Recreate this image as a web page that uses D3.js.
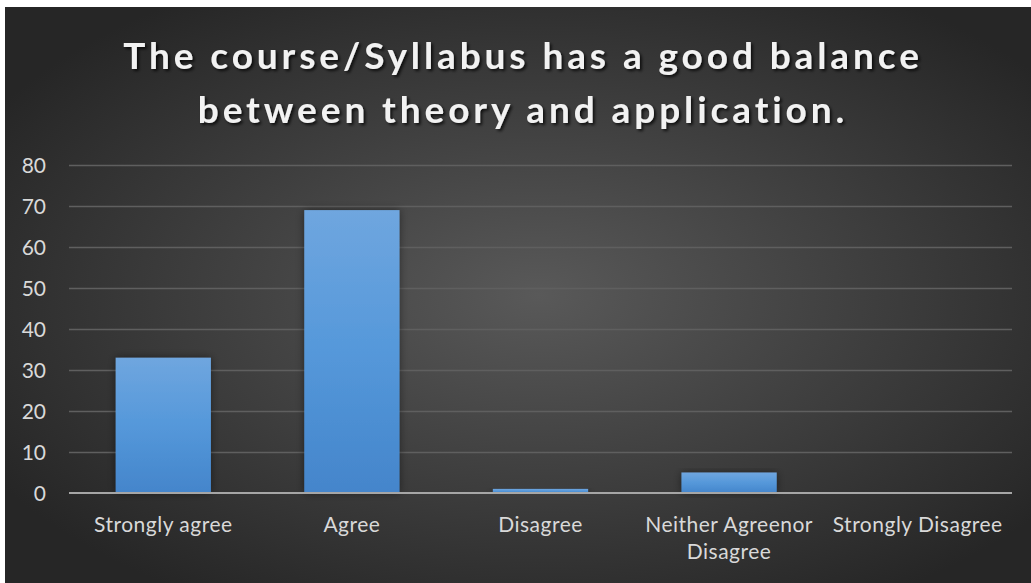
<!DOCTYPE html>
<html>
<head>
<meta charset="utf-8">
<script src="https://cdn.jsdelivr.net/npm/d3@7"></script>
<style>
  html, body { margin: 0; padding: 0; background: #fff; }
  svg { display: block; }
</style>
</head>
<body>
<div id="chart"></div>
<script>
const categories = ['Strongly agree', 'Agree', 'Disagree', 'Neither Agreenor Disagree', 'Strongly Disagree'];
const values = [33, 69, 1, 5, 0];
const yTicks = [0, 10, 20, 30, 40, 50, 60, 70, 80];
const titleLines = ['The course/Syllabus has a good balance', 'between theory and application.'];

const W = 1031, H = 583;
const margin = { top: 165, right: 19, bottom: 90, left: 69 };
const labelFont = 'Lato, "Open Sans", sans-serif';

const svg = d3.select('#chart').append('svg')
  .attr('width', W)
  .attr('height', H);

const defs = svg.append('defs');
const bg = defs.append('radialGradient')
  .attr('id', 'bg')
  .attr('cx', '52%').attr('cy', '50%').attr('r', '62%');
bg.append('stop').attr('offset', '0%').attr('stop-color', '#595959');
bg.append('stop').attr('offset', '100%').attr('stop-color', '#262626');

const barGrad = defs.append('linearGradient')
  .attr('id', 'barGrad')
  .attr('x1', 0).attr('y1', 0).attr('x2', 0).attr('y2', 1);
barGrad.append('stop').attr('offset', '0%').attr('stop-color', '#6fa6df');
barGrad.append('stop').attr('offset', '50%').attr('stop-color', '#5598da');
barGrad.append('stop').attr('offset', '100%').attr('stop-color', '#4485cb');

const shadow = defs.append('filter').attr('id', 'shadow')
  .attr('x', '-20%').attr('y', '-20%').attr('width', '140%').attr('height', '140%');
shadow.append('feDropShadow')
  .attr('dx', 0).attr('dy', 0).attr('stdDeviation', 4)
  .attr('flood-color', '#000').attr('flood-opacity', 0.45);

const tshadow = defs.append('filter').attr('id', 'tshadow')
  .attr('x', '-5%').attr('y', '-30%').attr('width', '110%').attr('height', '160%');
tshadow.append('feDropShadow')
  .attr('dx', 2).attr('dy', 2).attr('stdDeviation', 1.5)
  .attr('flood-color', '#000').attr('flood-opacity', 0.75);

svg.append('rect')
  .attr('x', 5).attr('y', 7)
  .attr('width', W - 5).attr('height', H - 7)
  .attr('fill', 'url(#bg)');

// title
svg.append('g')
  .attr('filter', 'url(#tshadow)')
  .selectAll('text')
  .data(titleLines)
  .enter()
  .append('text')
  .attr('x', 523)
  .attr('y', (d, i) => 69 + i * 54)
  .attr('text-anchor', 'middle')
  .style('font-family', 'Lato, "Open Sans", sans-serif')
  .style('font-weight', 'bold')
  .style('font-size', '37px')
  .style('letter-spacing', '3.9px')
  .style('fill', '#f2f2f2')
  .text(d => d);

const innerW = W - margin.left - margin.right;
const innerH = H - margin.top - margin.bottom;

const g = svg.append('g')
  .attr('transform', `translate(${margin.left}, ${margin.top})`);

const x = d3.scaleBand()
  .domain(categories)
  .range([0, innerW])
  .paddingInner(0.495)
  .paddingOuter(0.2475);

const y = d3.scaleLinear()
  .domain([0, 80])
  .range([innerH, 0]);

// gridlines
const yGrid = d3.axisLeft(y)
  .tickValues(yTicks.filter(t => t > 0))
  .tickSize(-innerW)
  .tickFormat('');
g.append('g')
  .call(yGrid)
  .call(s => s.select('.domain').remove())
  .call(s => s.selectAll('line').attr('stroke', '#5f5f5f').attr('stroke-width', 1.3));

// y labels
const yAxis = d3.axisLeft(y)
  .tickValues(yTicks)
  .tickSize(0)
  .tickPadding(23);
g.append('g')
  .call(yAxis)
  .call(s => s.select('.domain').remove())
  .call(s => s.selectAll('text')
    .attr('dy', '0.35em')
    .style('font-family', labelFont)
    .style('font-size', '21px')
    .style('fill', '#d9d9d9'));

// bars
g.selectAll('.bar')
  .data(values)
  .enter()
  .append('rect')
  .attr('class', 'bar')
  .attr('x', (d, i) => x(categories[i]))
  .attr('y', d => y(d))
  .attr('width', x.bandwidth())
  .attr('height', d => innerH - y(d))
  .attr('fill', 'url(#barGrad)')
  .attr('filter', 'url(#shadow)');

// baseline
g.append('line')
  .attr('x1', 0).attr('x2', innerW)
  .attr('y1', y(0)).attr('y2', y(0))
  .attr('stroke', '#a6a6a6')
  .attr('stroke-width', 2.2);

// x labels
const xAxis = d3.axisBottom(x).tickSize(0).tickPadding(0).tickFormat('');
const xg = g.append('g')
  .attr('transform', `translate(0, ${innerH})`)
  .call(xAxis)
  .call(s => s.select('.domain').remove());

xg.selectAll('.tick')
  .append('text')
  .attr('text-anchor', 'middle')
  .style('font-family', labelFont)
  .style('font-size', '21px')
  .style('letter-spacing', '0.5px')
  .style('fill', '#d9d9d9')
  .each(function(d) {
    const t = d3.select(this);
    const lines = d === 'Neither Agreenor Disagree' ? ['Neither Agreenor', 'Disagree'] : [d];
    lines.forEach((l, i) => {
      t.append('tspan')
        .attr('x', 0)
        .attr('y', 39 + i * 27)
        .text(l);
    });
  });
</script>
</body>
</html>
